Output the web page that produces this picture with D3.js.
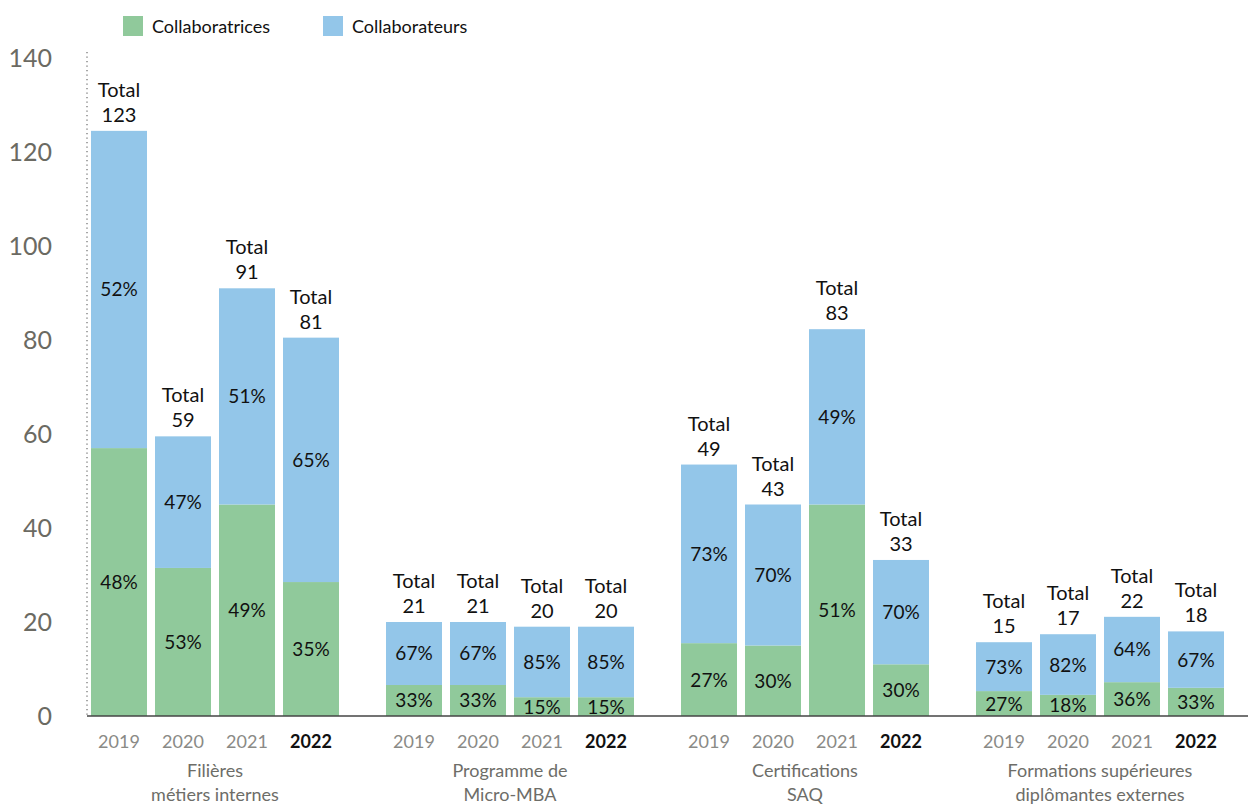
<!DOCTYPE html>
<html>
<head>
<meta charset="utf-8">
<script src="https://cdn.jsdelivr.net/npm/d3@7"></script>
<style>
  html, body { margin: 0; padding: 0; background: #fff; }
  svg { display: block; font-family: Lato, "Open Sans", sans-serif; }
</style>
</head>
<body>
<svg id="chart" width="1252" height="805"></svg>
<script>
// ---- data ----
const groups = ["Filières\nmétiers internes", "Programme de\nMicro-MBA", "Certifications\nSAQ", "Formations supérieures\ndiplômantes externes"];
const years = ["2019", "2020", "2021", "2022"];
// bar segment heights as drawn
const femmes = [
  [57, 31.5, 45, 28.5],
  [6.6, 6.6, 4, 4],
  [15.5, 15, 45, 11],
  [5.3, 4.5, 7.2, 6]
];
const hommes = [
  [67.5, 28, 46, 52],
  [13.4, 13.4, 15, 15],
  [38, 30, 37.3, 22.2],
  [10.4, 12.9, 13.9, 12]
];
// labels
const totals = [
  [123, 59, 91, 81],
  [21, 21, 20, 20],
  [49, 43, 83, 33],
  [15, 17, 22, 18]
];
const pctFemmes = [
  [48, 53, 49, 35],
  [33, 33, 15, 15],
  [27, 30, 51, 30],
  [27, 18, 36, 33]
];
const pctHommes = [
  [52, 47, 51, 65],
  [67, 67, 85, 85],
  [73, 70, 49, 70],
  [73, 82, 64, 67]
];
const yTicks = [0, 20, 40, 60, 80, 100, 120, 140];
const seriesNames = ["Collaboratrices", "Collaborateurs"];
const colors = ["#90c99b", "#93c6e9"];

// ---- layout ----
const svg = d3.select("#chart");
const y = d3.scaleLinear().domain([0, 140]).range([716, 58]);
const xG = d3.scaleBand().domain(groups).range([91, 1224]).paddingInner(0.1593).paddingOuter(0);
const xY = d3.scaleBand().domain(years).range([0, xG.bandwidth()]).paddingInner(0.125).paddingOuter(0);

// y axis dotted line
svg.append("line")
  .attr("x1", 87).attr("x2", 87).attr("y1", 52).attr("y2", y(0))
  .attr("stroke", "#777").attr("stroke-width", 1.3).attr("stroke-dasharray", "1.3,3.2");

// y tick labels
svg.append("g").selectAll("text").data(yTicks).join("text")
  .attr("x", 52).attr("y", d => y(d) + 9)
  .attr("text-anchor", "end")
  .attr("font-size", 25).attr("fill", "#6b6a62")
  .text(d => d);

// bars
const gSel = svg.append("g").selectAll("g").data(groups).join("g")
  .attr("transform", d => `translate(${xG(d)},0)`);

gSel.each(function(gName, gi) {
  const g = d3.select(this);
  years.forEach((yr, yi) => {
    const f = femmes[gi][yi], h = hommes[gi][yi];
    const x0 = xY(yr), w = xY.bandwidth();
    // green
    g.append("rect").attr("x", x0).attr("width", w)
      .attr("y", y(f)).attr("height", y(0) - y(f)).attr("fill", colors[0]);
    // blue
    g.append("rect").attr("x", x0).attr("width", w)
      .attr("y", y(f + h)).attr("height", y(f) - y(f + h)).attr("fill", colors[1]);
    const cx = x0 + w / 2;
    // pct labels
    g.append("text").attr("x", cx).attr("y", (y(0) + y(f)) / 2 + 7)
      .attr("text-anchor", "middle").attr("font-size", 19).attr("fill", "#111")
      .text(pctFemmes[gi][yi] + "%");
    g.append("text").attr("x", cx).attr("y", (y(f) + y(f + h)) / 2 + 7)
      .attr("text-anchor", "middle").attr("font-size", 19).attr("fill", "#111")
      .text(pctHommes[gi][yi] + "%");
    // totals
    const top = y(f + h);
    g.append("text").attr("x", cx).attr("y", top - 34)
      .attr("text-anchor", "middle").attr("font-size", 20).attr("fill", "#111")
      .text("Total");
    g.append("text").attr("x", cx).attr("y", top - 9)
      .attr("text-anchor", "middle").attr("font-size", 20).attr("fill", "#111")
      .text(totals[gi][yi]);
    // year label
    const last = yi === years.length - 1;
    g.append("text").attr("x", cx).attr("y", 748)
      .attr("text-anchor", "middle").attr("font-size", 18)
      .attr("fill", last ? "#111" : "#8a8a86")
      .attr("font-weight", last ? "bold" : "normal")
      .text(yr);
  });
  // category label
  const lines = gName.split("\n");
  g.append("text").attr("text-anchor", "middle").attr("font-size", 18).attr("fill", "#6d6d68")
    .selectAll("tspan").data(lines).join("tspan")
    .attr("x", xG.bandwidth() / 2).attr("y", (d, i) => 777 + i * 24)
    .text(d => d);
});

// baseline
svg.append("line")
  .attr("x1", 87).attr("x2", 1248).attr("y1", y(0)).attr("y2", y(0))
  .attr("stroke", "#444").attr("stroke-width", 1.5);

// legend
const leg = svg.append("g");
const legX = [123, 323];
seriesNames.forEach((n, i) => {
  leg.append("rect").attr("x", legX[i]).attr("y", 16).attr("width", 20).attr("height", 20).attr("fill", colors[i]);
  leg.append("text").attr("x", legX[i] + 29).attr("y", 33).attr("font-size", 18).attr("fill", "#111").text(n);
});
</script>
</body>
</html>
